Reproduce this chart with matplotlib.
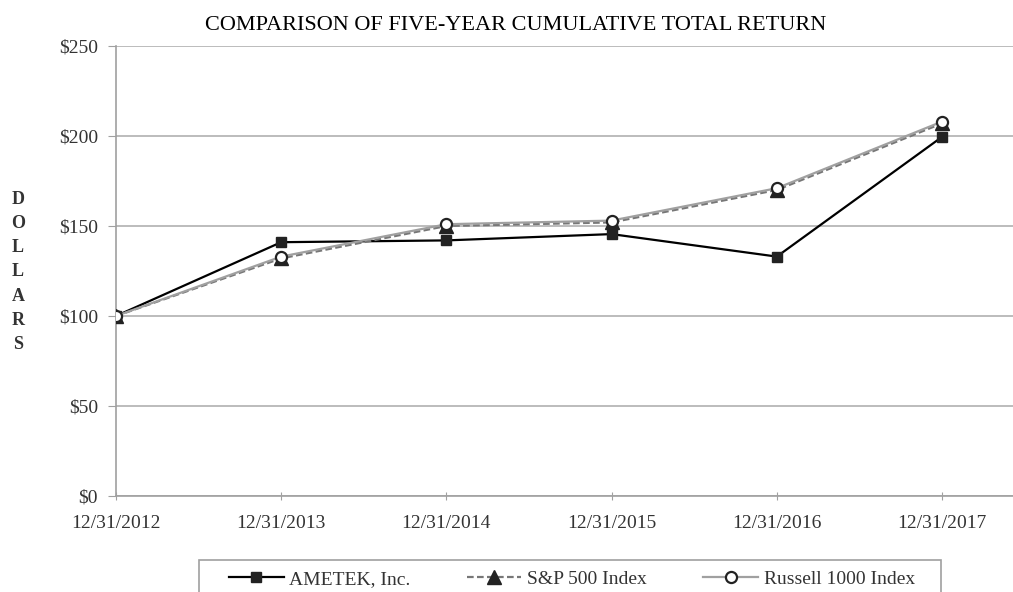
import matplotlib
matplotlib.use("Agg")
import matplotlib.pyplot as plt
from matplotlib.patches import Rectangle

dates = ["12/31/2012", "12/31/2013", "12/31/2014", "12/31/2015", "12/31/2016", "12/31/2017"]
ametek = [100, 141, 142, 145.5, 133, 199.5]
sp500 = [100, 132, 150, 152, 170, 207]
russell = [100, 133, 151, 153, 171, 208]
yticks = [0, 50, 100, 150, 200, 250]

plt.rcParams["font.family"] = ["Liberation Serif", "DejaVu Serif"]

W, H = 1013, 592
fig = plt.figure(figsize=(W / 100, H / 100), dpi=100)
ax = fig.add_axes([116 / W, 1 - 496 / H, 1 - 116 / W, 450 / H])

x = list(range(len(dates)))
ax.plot(x, ametek, color="black", lw=1.6, marker="s", ms=7,
        mfc="#222222", mec="#222222", label="AMETEK, Inc.", zorder=3)
ax.plot(x, sp500, color="#777777", lw=1.6, ls=(0, (3, 1.5)), marker="^", ms=10,
        mfc="#222222", mec="#222222", label="S&P 500 Index", zorder=4)
ax.plot(x, russell, color="#a0a0a0", lw=1.6, marker="o", ms=8,
        mfc="white", mec="#222222", mew=1.6, label="Russell 1000 Index", zorder=5)

ax.set_xlim(0, (W - 116) / 165.2)
ax.set_ylim(0, 250)
ax.set_xticks(x)
ax.set_xticklabels(dates)
ax.set_yticks(yticks)
ax.set_yticklabels([f"${v}" for v in yticks])
ax.grid(axis="y", color="#b0b0b0", lw=1.2)
ax.set_axisbelow(True)
for s in ["top", "right"]:
    ax.spines[s].set_visible(False)
for s in ["left", "bottom"]:
    ax.spines[s].set_color("#a0a0a0")
    ax.spines[s].set_linewidth(1.2)
ax.tick_params(axis="y", length=6, color="#a0a0a0", labelsize=14, labelcolor="#333333", pad=7)
ax.tick_params(axis="x", length=6, direction="inout", color="#a0a0a0", labelsize=14,
               labelcolor="#333333", pad=11)

fig.text(516 / W, 1 - 26 / H, "COMPARISON OF FIVE-YEAR CUMULATIVE TOTAL RETURN",
         ha="center", va="center", fontsize=16, color="black")
fig.text(18 / W, 1 - 272 / H, "D\nO\nL\nL\nA\nR\nS", ha="center", va="center",
         fontsize=13, fontweight="bold", color="#333333", linespacing=1.55)

# legend frame (runs off the bottom of the image like the original)
fig.patches.append(Rectangle((199 / W, -0.05), (941 - 199) / W, 0.05 + (H - 560) / H,
                             transform=fig.transFigure, fill=False,
                             edgecolor="#a0a0a0", lw=1.2))
leg = fig.legend(loc="center", bbox_to_anchor=(572 / W, 1 - 579 / H),
                 ncol=3, fontsize=14, frameon=False, handlelength=2.8,
                 handletextpad=0.3, columnspacing=2.9, borderaxespad=0)
for t in leg.get_texts():
    t.set_color("#333333")

fig.savefig("out.png", dpi=100)
